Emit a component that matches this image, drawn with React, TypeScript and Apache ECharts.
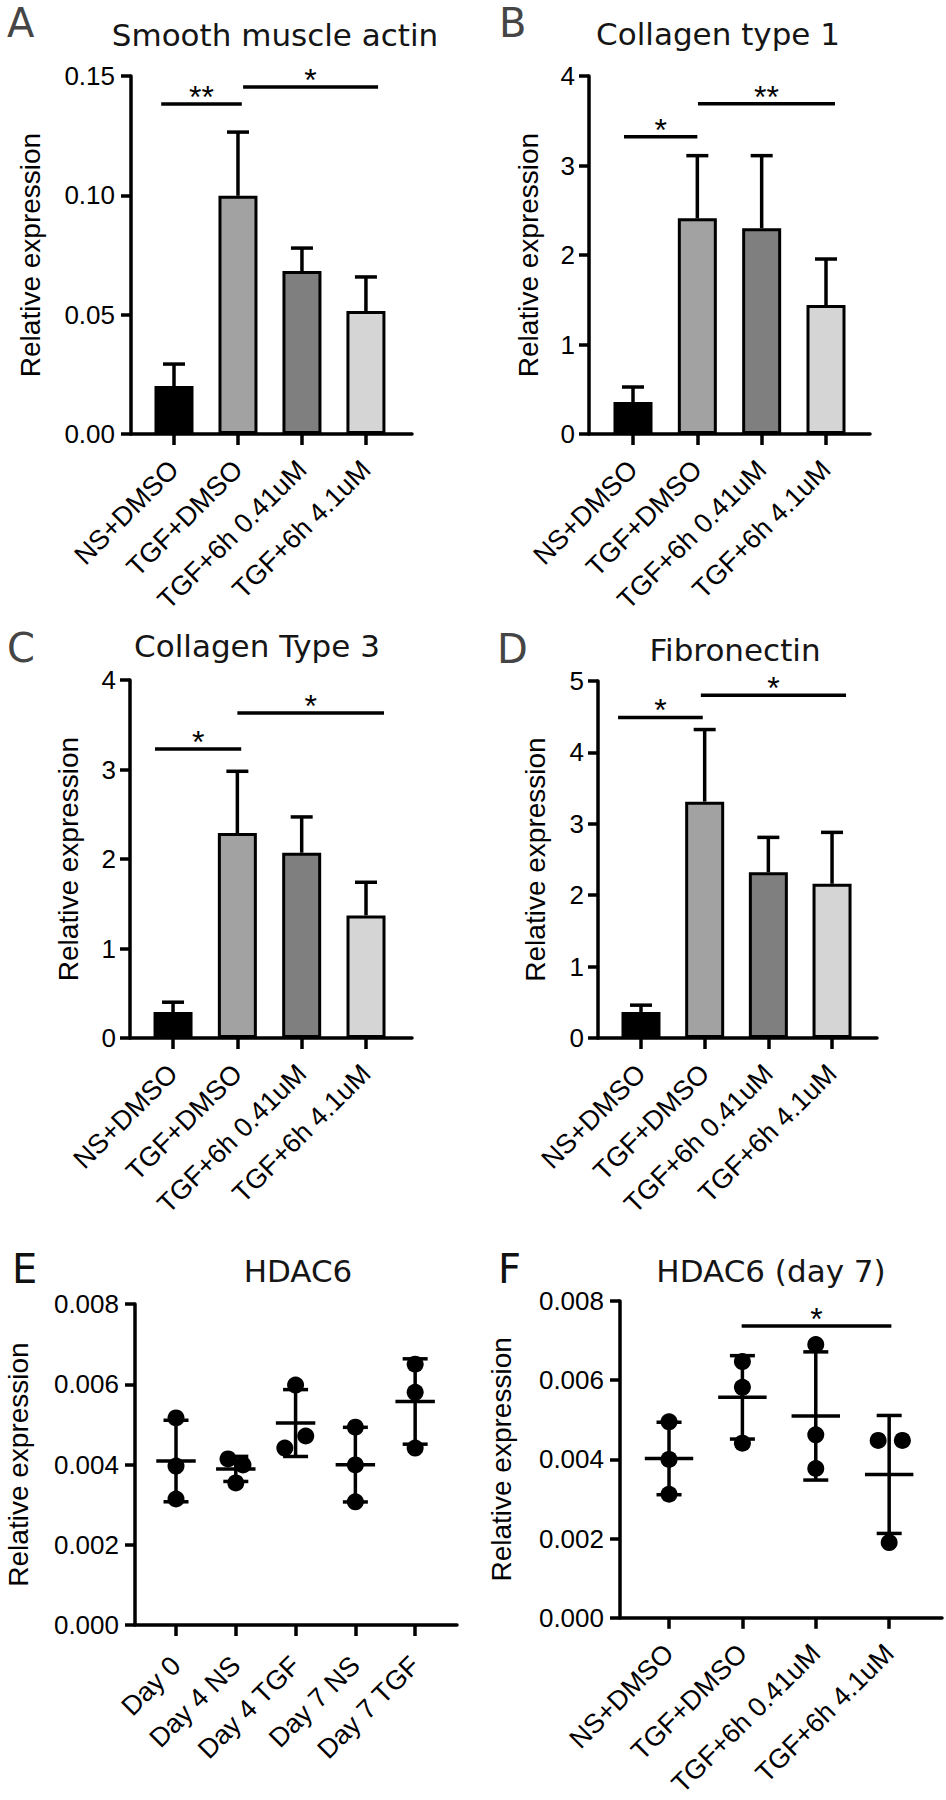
import React, { useEffect, useRef } from "react";
import * as echarts from "echarts";

// ---------- categories ----------
const barCategories = ["NS+DMSO", "TGF+DMSO", "TGF+6h 0.41uM", "TGF+6h 4.1uM"];
const dayCategories = ["Day 0", "Day 4 NS", "Day 4 TGF", "Day 7 NS", "Day 7 TGF"];
const barColors = ["#000000", "#a2a2a2", "#7f7f7f", "#d5d5d5"];

// ---------- A: Smooth muscle actin ----------
const smaMean = [0.0201, 0.0998, 0.0683, 0.0515];
const smaErrTop = [0.0293, 0.1265, 0.0779, 0.0658];
const smaTicks = [0, 0.05, 0.1, 0.15];
const smaSig = [[-0.2, 1.06, 0.1383], [1.08, 3.19, 0.1454]];
const smaSigLabels = ["**", "*"];

// ---------- B: Collagen type 1 ----------
const col1Mean = [0.357, 2.41, 2.3, 1.44];
const col1ErrTop = [0.525, 3.11, 3.11, 1.955];
const col1Ticks = [0, 1, 2, 3, 4];
const col1Sig = [[-0.14, 1.0, 3.32], [1.01, 3.14, 3.69]];
const col1SigLabels = ["*", "**"];

// ---------- C: Collagen Type 3 ----------
const col3Mean = [0.29, 2.29, 2.07, 1.37];
const col3ErrTop = [0.4, 2.98, 2.47, 1.74];
const col3Ticks = [0, 1, 2, 3, 4];
const col3Sig = [[-0.28, 1.06, 3.23], [1.0, 3.28, 3.63]];
const col3SigLabels = ["*", "*"];

// ---------- D: Fibronectin ----------
const fnMean = [0.365, 3.31, 2.32, 2.16];
const fnErrTop = [0.46, 4.32, 2.81, 2.88];
const fnTicks = [0, 1, 2, 3, 4, 5];
const fnSig = [[-0.36, 0.97, 4.49], [0.94, 3.22, 4.8]];
const fnSigLabels = ["*", "*"];

// ---------- E: HDAC6 (points: [x offset within group, value]) ----------
const hdacDay0 = [[0, 0.00516], [0, 0.00396], [0, 0.00314]];
const hdacDay4NS = [[-0.13, 0.00414], [0.12, 0.00399], [0, 0.00354]];
const hdacDay4TGF = [[0, 0.00598], [0.17, 0.00471], [-0.18, 0.00441]];
const hdacDay7NS = [[0, 0.00493], [0, 0.00399], [0, 0.00307]];
const hdacDay7TGF = [[0, 0.0065], [0, 0.0058], [0, 0.00441]];
const hdacTicks = [0, 0.002, 0.004, 0.006, 0.008];

// ---------- F: HDAC6 (day 7) ----------
const d7NsDmso = [[0, 0.00495], [0, 0.004], [0, 0.00312]];
const d7TgfDmso = [[0, 0.00647], [0, 0.00582], [0, 0.00441]];
const d7Tgf041 = [[0, 0.0069], [0, 0.00462], [0, 0.00377]];
const d7Tgf41 = [[-0.15, 0.00448], [0.18, 0.00448], [0, 0.0019]];
const d7Ticks = [0, 0.002, 0.004, 0.006, 0.008];
const d7Sig = [[0.99, 3.03, 0.00737]];
const d7SigLabels = ["*"];

// ---------- layout (positions only) ----------
const AXIS_FONT = "'Liberation Sans', Arial, sans-serif";
const TITLE_FONT = "'DejaVu Sans', sans-serif";
const LW = 3.5;

type Panel = {
  grid: { left: number; top: number; width: number; height: number };
  xRange: [number, number];
  cats: string[];
  ticks: number[];
  decimals: number;
  labelMargin: number;
  nameGap: number;
  yLabelMargin: number;
};

const panelA: Panel = { grid: { left: 131, top: 76, width: 281, height: 358 }, xRange: [-0.672, 3.72], cats: barCategories, ticks: smaTicks, decimals: 2, labelMargin: 31, nameGap: 87, yLabelMargin: 16 };
const panelB: Panel = { grid: { left: 589, top: 76, width: 281, height: 358 }, xRange: [-0.684, 3.684], cats: barCategories, ticks: col1Ticks, decimals: 0, labelMargin: 31, nameGap: 47, yLabelMargin: 14 };
const panelC: Panel = { grid: { left: 130, top: 680, width: 282, height: 358 }, xRange: [-0.669, 3.715], cats: barCategories, ticks: col3Ticks, decimals: 0, labelMargin: 31, nameGap: 48, yLabelMargin: 14 };
const panelD: Panel = { grid: { left: 598, top: 681, width: 279, height: 357 }, xRange: [-0.675, 3.706], cats: barCategories, ticks: fnTicks, decimals: 0, labelMargin: 31, nameGap: 49, yLabelMargin: 14 };
const panelE: Panel = { grid: { left: 135, top: 1304, width: 322, height: 321 }, xRange: [-0.686, 4.7], cats: dayCategories, ticks: hdacTicks, decimals: 3, labelMargin: 36, nameGap: 103, yLabelMargin: 16 };
const panelF: Panel = { grid: { left: 620, top: 1301, width: 322, height: 320 }, xRange: [-0.668, 3.72], cats: barCategories, ticks: d7Ticks, decimals: 3, labelMargin: 31, nameGap: 105, yLabelMargin: 16 };

const panels = [panelA, panelB, panelC, panelD, panelE, panelF];

const titles = [
  { text: "Smooth muscle actin", x: 275, y: 35 },
  { text: "Collagen type 1", x: 718, y: 34 },
  { text: "Collagen Type 3", x: 257, y: 646 },
  { text: "Fibronectin", x: 735, y: 650 },
  { text: "HDAC6", x: 298, y: 1271 },
  { text: "HDAC6 (day 7)", x: 771, y: 1271 },
];
const letters = [
  { text: "A", x: 7, y: 23, color: "#454545" },
  { text: "B", x: 499, y: 23, color: "#454545" },
  { text: "C", x: 7, y: 648, color: "#454545" },
  { text: "D", x: 497, y: 649, color: "#454545" },
  { text: "E", x: 12, y: 1269, color: "#111111" },
  { text: "F", x: 498, y: 1269, color: "#111111" },
];

function axesFor(p: Panel, idx: number) {
  const idxs = p.cats.map((_, i) => i);
  const xAxis = {
    type: "value",
    gridIndex: idx,
    min: p.xRange[0],
    max: p.xRange[1],
    axisLine: { show: true, onZero: false, lineStyle: { color: "#000", width: LW } },
    axisTick: { show: true, customValues: idxs, length: 11, lineStyle: { color: "#000", width: LW } },
    axisLabel: {
      show: true,
      customValues: idxs,
      rotate: 45,
      margin: p.labelMargin,
      fontSize: 27,
      fontFamily: AXIS_FONT,
      color: "#000",
      formatter: (v: number) => p.cats[Math.round(v)] ?? "",
    },
    splitLine: { show: false },
  };
  const yAxis = {
    type: "value",
    gridIndex: idx,
    min: p.ticks[0],
    max: p.ticks[p.ticks.length - 1],
    interval: p.ticks[1] - p.ticks[0],
    name: "Relative expression",
    nameLocation: "middle",
    nameRotate: 90,
    nameGap: p.nameGap,
    nameTextStyle: { fontSize: 28, fontFamily: AXIS_FONT, color: "#000" },
    axisLine: { show: true, onZero: false, lineStyle: { color: "#000", width: LW } },
    axisTick: { show: true, length: 10, lineStyle: { color: "#000", width: LW } },
    axisLabel: {
      show: true,
      margin: p.yLabelMargin,
      fontSize: 26,
      fontFamily: AXIS_FONT,
      color: "#000",
      formatter: (v: number) => v.toFixed(p.decimals),
    },
    splitLine: { show: false },
  };
  return { xAxis, yAxis };
}

function barSeries(idx: number, means: number[], errTop: number[], sig: number[][], sigLabels: string[]) {
  return [
    {
      type: "bar",
      xAxisIndex: idx,
      yAxisIndex: idx,
      barWidth: 39,
      data: means.map((v, i) => ({ value: [i, v], itemStyle: { color: barColors[i] } })),
      itemStyle: { borderColor: "#000", borderWidth: 3 },
      z: 2,
    },
    {
      type: "custom",
      xAxisIndex: idx,
      yAxisIndex: idx,
      data: means.map((v, i) => [i, v, errTop[i]]),
      encode: { x: 0, y: [1, 2] },
      z: 3,
      renderItem: (params: any, api: any) => {
        const x = api.value(0);
        const p0 = api.coord([x, api.value(1)]);
        const p1 = api.coord([x, api.value(2)]);
        return {
          type: "group",
          children: [
            { type: "line", shape: { x1: p0[0], y1: p0[1], x2: p1[0], y2: p1[1] }, style: { stroke: "#000", lineWidth: LW } },
            { type: "line", shape: { x1: p1[0] - 11, y1: p1[1], x2: p1[0] + 11, y2: p1[1] }, style: { stroke: "#000", lineWidth: LW } },
          ],
        };
      },
    },
    sigSeries(idx, sig, sigLabels),
  ];
}

function sigSeries(idx: number, sig: number[][], sigLabels: string[]) {
  return {
    type: "custom",
    xAxisIndex: idx,
    yAxisIndex: idx,
    data: sig.map((r) => [r[0], r[1], r[2]]),
    encode: { x: [0, 1], y: 2 },
    z: 4,
    renderItem: (params: any, api: any) => {
      const a = api.coord([api.value(0), api.value(2)]);
      const b = api.coord([api.value(1), api.value(2)]);
      return {
        type: "group",
        children: [
          { type: "line", shape: { x1: a[0], y1: a[1], x2: b[0], y2: b[1] }, style: { stroke: "#000", lineWidth: LW } },
          {
            type: "text",
            x: (a[0] + b[0]) / 2,
            y: a[1] - 7,
            style: {
              text: sigLabels[params.dataIndex],
              fill: "#000",
              fontSize: 32,
              fontFamily: AXIS_FONT,
              align: "center",
              verticalAlign: "middle",
            },
          },
        ],
      };
    },
  };
}

function dotSeries(idx: number, groups: number[][][], capHalf: number, meanHalf: number) {
  const stats = groups.map((g, i) => {
    const vals = g.map((p) => p[1]);
    const mean = vals.reduce((s, v) => s + v, 0) / vals.length;
    const sd = Math.sqrt(vals.reduce((s, v) => s + (v - mean) * (v - mean), 0) / (vals.length - 1));
    return [i, mean, sd];
  });
  return [
    {
      type: "custom",
      xAxisIndex: idx,
      yAxisIndex: idx,
      data: stats,
      encode: { x: 0, y: 1 },
      z: 2,
      renderItem: (params: any, api: any) => {
        const x = api.value(0);
        const m = api.value(1);
        const sd = api.value(2);
        const c = api.coord([x, m]);
        const t = api.coord([x, m + sd]);
        const b = api.coord([x, m - sd]);
        const half = api.size([meanHalf, 0])[0];
        const st = { stroke: "#000", lineWidth: LW };
        return {
          type: "group",
          children: [
            { type: "line", shape: { x1: c[0] - half, y1: c[1], x2: c[0] + half, y2: c[1] }, style: st },
            { type: "line", shape: { x1: t[0], y1: t[1], x2: b[0], y2: b[1] }, style: st },
            { type: "line", shape: { x1: t[0] - capHalf, y1: t[1], x2: t[0] + capHalf, y2: t[1] }, style: st },
            { type: "line", shape: { x1: b[0] - capHalf, y1: b[1], x2: b[0] + capHalf, y2: b[1] }, style: st },
          ],
        };
      },
    },
    {
      type: "scatter",
      xAxisIndex: idx,
      yAxisIndex: idx,
      symbol: "circle",
      symbolSize: 17,
      itemStyle: { color: "#000", opacity: 1 },
      z: 3,
      data: groups.flatMap((g, i) => g.map((p) => [i + p[0], p[1]])),
    },
  ];
}

export default function App() {
  const ref = useRef<HTMLDivElement>(null);
  useEffect(() => {
    if (!ref.current) return;
    const chart = echarts.init(ref.current, undefined, { renderer: "svg" });
    const axes = panels.map((p, i) => axesFor(p, i));
    const option: any = {
      animation: false,
      backgroundColor: "#ffffff",
      grid: panels.map((p) => ({ ...p.grid, containLabel: false })),
      xAxis: axes.map((a) => a.xAxis),
      yAxis: axes.map((a) => a.yAxis),
      series: [
        ...barSeries(0, smaMean, smaErrTop, smaSig, smaSigLabels),
        ...barSeries(1, col1Mean, col1ErrTop, col1Sig, col1SigLabels),
        ...barSeries(2, col3Mean, col3ErrTop, col3Sig, col3SigLabels),
        ...barSeries(3, fnMean, fnErrTop, fnSig, fnSigLabels),
        ...dotSeries(4, [hdacDay0, hdacDay4NS, hdacDay4TGF, hdacDay7NS, hdacDay7TGF], 12.5, 0.33),
        ...dotSeries(5, [d7NsDmso, d7TgfDmso, d7Tgf041, d7Tgf41], 12.5, 0.33),
        sigSeries(5, d7Sig, d7SigLabels),
      ],
      graphic: [
        ...titles.map((t) => ({
          type: "text",
          x: t.x,
          y: t.y,
          style: { text: t.text, fontSize: 31, fontFamily: TITLE_FONT, fill: "#151515", align: "center", verticalAlign: "middle" },
        })),
        ...letters.map((t) => ({
          type: "text",
          x: t.x,
          y: t.y,
          style: { text: t.text, fontSize: 40, fontFamily: TITLE_FONT, fill: t.color, align: "left", verticalAlign: "middle" },
        })),
      ],
    };
    chart.setOption(option);
    return () => chart.dispose();
  }, []);
  return (
    <div
      ref={ref}
      style={{ position: "absolute", left: 0, top: 0, width: 946, height: 1800, background: "#fff" }}
    />
  );
}
